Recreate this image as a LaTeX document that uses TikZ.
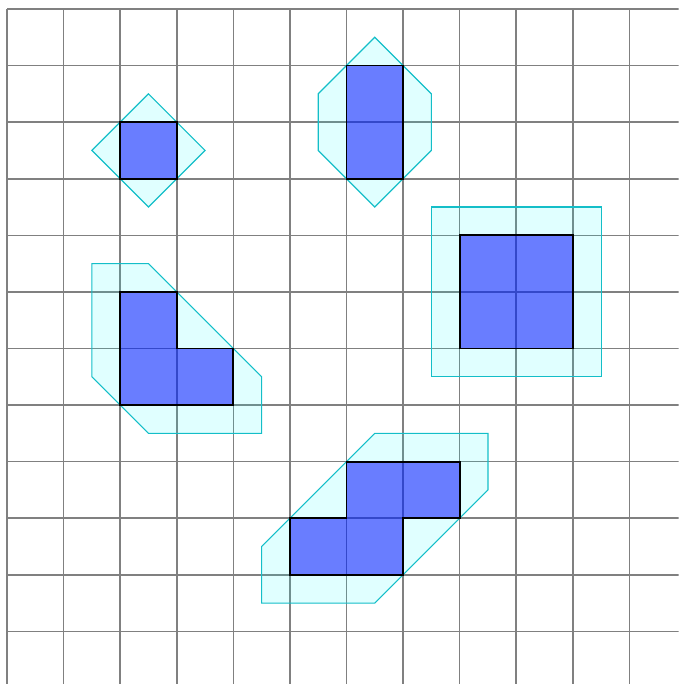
\documentclass[tikz,border=0pt]{standalone}
\usepackage{tikz}
\definecolor{hullline}{RGB}{20,190,200}
\definecolor{hullfill}{RGB}{0,255,255}
\definecolor{piecefill}{RGB}{0,10,255}

\begin{document}
\begin{tikzpicture}[
  y=-1cm,
  gridline/.style={gray, line width=0.8pt},
  hull/.style={draw=hullline, fill=hullfill, fill opacity=0.12, draw opacity=1, line width=0.6pt},
  piece/.style={draw=black, fill=piecefill, fill opacity=0.53, draw opacity=1, line width=0.9pt},
]

\useasboundingbox (-0.124,-0.159) rectangle (11.87,11.93);
\clip (-0.124,-0.159) rectangle (11.87,11.93);

%% ── grid ────────────────────────────────────────────────────────────
\foreach \i in {0,...,12} { \draw[gridline] (\i,0) -- (\i,12.5); }
\foreach \j in {0,...,12} { \draw[gridline] (0,\j) -- (12.5,\j); }

%% ── hulls ───────────────────────────────────────────────────────────
\draw[hull] (1.5,2.5) -- (2.5,1.5) -- (3.5,2.5) -- (2.5,3.5) -- cycle;
\draw[hull] (6.5,0.5) -- (7.5,1.5) -- (7.5,2.5) -- (6.5,3.5) -- (5.5,2.5) -- (5.5,1.5) -- cycle;
\draw[hull] (7.5,3.5) rectangle (10.5,6.5);
\draw[hull] (1.5,4.5) -- (2.5,4.5) -- (4.5,6.5) -- (4.5,7.5) -- (2.5,7.5) -- (1.5,6.5) -- cycle;
\draw[hull] (6.5,7.5) -- (8.5,7.5) -- (8.5,8.5) -- (6.5,10.5) -- (4.5,10.5) -- (4.5,9.5) -- cycle;

%% ── pieces ──────────────────────────────────────────────────────────
\draw[piece] (2,2) rectangle (3,3);
\draw[piece] (6,1) rectangle (7,3);
\draw[piece] (8,4) rectangle (10,6);
\draw[piece] (2,5) -- (3,5) -- (3,6) -- (4,6) -- (4,7) -- (2,7) -- cycle;
\draw[piece] (6,8) -- (8,8) -- (8,9) -- (7,9) -- (7,10) -- (5,10) -- (5,9) -- (6,9) -- cycle;

\end{tikzpicture}
\end{document}
